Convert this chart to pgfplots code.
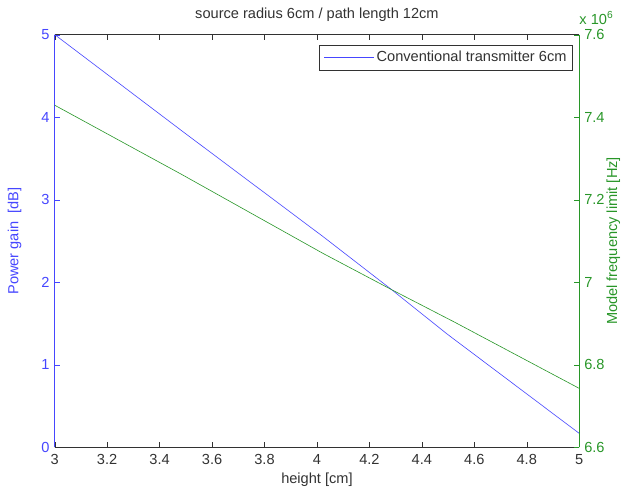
\documentclass[border=0pt]{standalone}
\usepackage{fontspec}
\setmainfont{Liberation Sans}
\usepackage{pgfplots}
\pgfplotsset{compat=1.18}
\definecolor{mblue}{RGB}{70,70,255}
\definecolor{mgreen}{RGB}{40,150,40}
\definecolor{mgray}{RGB}{50,50,50}
\newcommand{\ff}{\fontsize{14.5}{16}\selectfont}
\begin{document}
\ff
\begin{tikzpicture}
\pgfplotsset{
  every axis/.append style={
    scale only axis, width=521pt, height=410pt,
    xmin=3, xmax=5,
    tick align=inside,
    major tick length=5pt,
    /pgf/number format/assume math mode=true,
    tick label style={font=\ff},
    label style={font=\ff},
  }
}
\begin{axis}[
  separate axis lines,
  ymin=0, ymax=5,
  xtick={3,3.2,...,5.01},
  xticklabel style={text=mgray, yshift=-2pt},
  xticklabels={3,3.2,3.4,3.6,3.8,4,4.2,4.4,4.6,4.8,5},
  ytick={0,1,2,3,4,5},
  yticklabels={0,1,2,3,4,5},
  ytick pos=left,
  xtick pos=both,
  x axis line style={draw=mgray},
  y axis line style={draw=mblue},
  ytick style={mblue},
  xtick style={mgray},
  yticklabel style={text=mblue},
  xlabel={height [cm]},
  xlabel style={text=mgray, yshift=2pt},
  ylabel={Power gain\ \ [dB]},
  ylabel style={text=mblue, yshift=10pt},
  title={source radius 6cm / path length 12cm},
  title style={font=\ff, text=mgray, yshift=2pt},
  legend style={at={(0.988,0.975)}, anchor=north east, draw=mgray, line width=0.8pt,
    font=\ff, inner sep=4pt},
  legend cell align=left,
  legend image code/.code={\pgfsetstrokecolor{mblue}\pgfsetlinewidth{0.9pt}\pgfpathmoveto{\pgfpoint{0cm}{0cm}}\pgfpathlineto{\pgfpoint{1.75cm}{0cm}}\pgfusepath{stroke}},
]
\addplot[mblue, line width=0.6pt] coordinates {(3,5.0) (3.485,3.834) (4.023,2.554) (4.285,1.91) (4.496,1.374) (5,0.17)};
\addlegendentry{\textcolor{mgray}{Conventional transmitter 6cm}}
\end{axis}
\begin{axis}[
  ymin=6600000, ymax=7600000,
  axis x line=none,
  axis y line*=right,
  ytick={6600000,6800000,7000000,7200000,7400000,7600000},
  yticklabels={6.6,6.8,7,7.2,7.4,7.6},
  scaled y ticks=false,
  y axis line style={draw=mgreen, -},
  ytick style={mgreen},
  yticklabel style={text=mgreen},
  ylabel={Model frequency limit [Hz]},
  ylabel style={text=mgreen, yshift=8pt},
  clip=false,
]
\addplot[mgreen, line width=0.6pt] coordinates {(3,7429000) (3.485,7261000) (4.023,7070000) (4.285,6982000) (4.523,6904000) (5,6743000)};
\node[text=mgreen, anchor=south west, inner sep=0pt, font=\ff] at ([xshift=0pt, yshift=10pt]rel axis cs:1,1) {x 10\textsuperscript{6}};
\end{axis}
\path ([yshift=-7pt]current bounding box.south) ([xshift=8pt]current bounding box.east) ([xshift=-3pt]current bounding box.west) ([yshift=3pt]current bounding box.north);
\end{tikzpicture}
\end{document}
